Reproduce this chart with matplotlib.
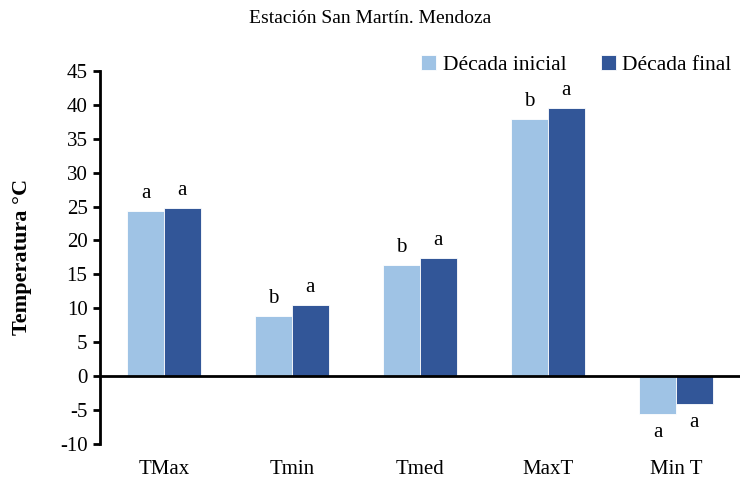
import matplotlib
matplotlib.use("Agg")
import matplotlib.pyplot as plt
import numpy as np

categories = ["TMax", "Tmin", "Tmed", "MaxT", "Min T"]
inicial = [24.3, 8.9, 16.4, 37.9, -5.6]
final = [24.8, 10.5, 17.4, 39.5, -4.2]
letters_ini = ["a", "b", "b", "b", "a"]
letters_fin = ["a", "a", "a", "a", "a"]
yticks = list(range(-10, 50, 5))

plt.rcParams['font.family'] = ['Liberation Serif', 'DejaVu Serif']
plt.rcParams['axes.unicode_minus'] = False

fig = plt.figure(figsize=(7.4, 4.84), dpi=100)
ax = fig.add_axes([100/740, (484-443.8)/484, 1 - 100/740, (443.8-71)/484])

x = np.arange(len(categories))
w = 0.288
c1 = "#9fc3e5"
c2 = "#325698"
ax.bar(x - w/2, inicial, w, color=c1, edgecolor="white", linewidth=0.6, label="Década inicial", zorder=2)
ax.bar(x + w/2, final, w, color=c2, edgecolor="white", linewidth=0.6, label="Década final", zorder=2)

for xs, vals, labs in [(x - w/2, inicial, letters_ini), (x + w/2, final, letters_fin)]:
    for xi, v, l in zip(xs, vals, labs):
        if v >= 0:
            ax.text(xi, v + 1.2, l, ha="center", va="bottom", fontsize=15)
        else:
            ax.text(xi, v - 1.3, l, ha="center", va="top", fontsize=15)

ax.set_xlim(-0.5, 4.5)
ax.set_ylim(-10, 45)
ax.set_yticks(yticks)
ax.set_xticks(x)
ax.set_xticklabels(categories)
ax.tick_params(axis="x", length=0, labelsize=15, pad=12)
ax.tick_params(axis="y", direction="out", length=5, width=2, labelsize=15, pad=4)
for s in ["top", "right", "bottom"]:
    ax.spines[s].set_visible(False)
ax.spines["left"].set_linewidth(2)
ax.axhline(0, color="black", linewidth=2, zorder=3)

ax.set_ylabel("Temperatura °C", fontsize=16, fontweight="bold", labelpad=20)
fig.text(0.5, 0.962, "Estación San Martín. Mendoza", ha="center", va="center", fontsize=14)

ax.legend(loc="upper right", bbox_to_anchor=(1.0, 1.065), ncol=2, frameon=False,
          fontsize=15.5, handlelength=0.7, handleheight=0.7, handletextpad=0.3,
          columnspacing=1.6, borderaxespad=0)

fig.savefig("out.png", dpi=100)
